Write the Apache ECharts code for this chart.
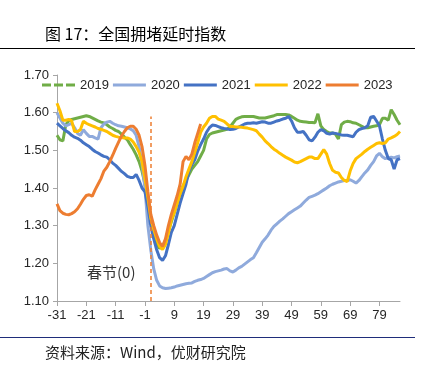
<!DOCTYPE html>
<html>
<head>
<meta charset="utf-8">
<script src="https://cdn.jsdelivr.net/npm/echarts@6/dist/echarts.min.js"></script>
<style>
html,body{margin:0;padding:0;background:#fff;}
#chart{width:421px;height:368px;}
</style>
</head>
<body>
<div id="chart"></div>
<script>
var days = ['-31','-30','-29','-28','-27','-26','-25','-24','-23','-22','-21','-20','-19','-18','-17','-16','-15','-14','-13','-12','-11','-10','-9','-8','-7','-6','-5','-4','-3','-2','-1','0',
'1','2','3','4','5','6','7','8','9','10','11','12','13','14','15','16','17','18','19','20','21','22','23','24','25','26','27','28','29','30',
'31','32','33','34','35','36','37','38','39','40','41','42','43','44','45','46','47','48','49','50','51','52','53','54','55','56','57','58','59','60',
'61','62','63','64','65','66','67','68','69','70','71','72','73','74','75','76','77','78','79','80','81','82','83','84','85','86'];

var s2019 = [1.54,1.528,1.525,1.568,1.578,1.582,1.584,1.586,1.588,1.59,1.592,1.59,1.586,1.582,1.578,1.575,1.573,1.568,1.562,1.558,1.553,1.55,1.543,1.535,1.528,1.515,1.503,1.488,1.47,1.445,1.41,1.37,
1.32,1.28,1.25,1.24,1.245,1.26,1.285,1.31,1.335,1.36,1.385,1.405,1.42,1.435,1.45,1.46,1.47,1.485,1.50,1.53,1.542,1.546,1.548,1.55,1.552,1.554,1.556,1.562,1.572,1.582,
1.586,1.589,1.59,1.59,1.59,1.59,1.588,1.586,1.586,1.586,1.588,1.59,1.592,1.595,1.595,1.595,1.595,1.594,1.59,1.585,
1.58,1.577,1.576,1.575,1.574,1.574,1.573,1.597,1.565,1.555,1.55,1.546,1.546,1.543,1.53,1.568,1.575,1.577,1.576,1.573,
1.572,1.568,1.564,1.56,1.56,1.562,1.564,1.565,1.568,1.585,1.585,1.58,1.608,1.595,1.58,1.568];

var s2020 = [1.60,1.586,1.572,1.565,1.568,1.572,1.56,1.545,1.54,1.555,1.545,1.537,1.537,1.533,1.53,1.56,1.57,1.575,1.577,1.572,1.568,1.565,1.564,1.562,1.56,1.557,1.552,1.54,1.51,1.465,1.40,1.30,
1.235,1.185,1.155,1.14,1.135,1.133,1.134,1.135,1.137,1.14,1.142,1.144,1.146,1.147,1.148,1.152,1.155,1.157,1.16,1.165,1.17,1.175,1.178,1.18,1.182,1.185,1.186,1.18,1.177,1.182,
1.188,1.192,1.198,1.204,1.21,1.215,1.228,1.242,1.256,1.265,1.275,1.288,1.298,1.305,1.312,1.318,1.325,1.332,1.337,1.342,
1.347,1.352,1.36,1.368,1.375,1.378,1.381,1.385,1.39,1.395,1.40,1.406,1.41,1.413,1.416,1.418,1.42,1.42,1.422,1.418,
1.413,1.42,1.43,1.44,1.448,1.46,1.47,1.485,1.492,1.483,1.478,1.48,1.482,1.48,1.483,1.485];

var s2021 = [1.572,1.565,1.558,1.552,1.547,1.54,1.535,1.532,1.527,1.52,1.515,1.51,1.503,1.497,1.493,1.488,1.484,1.482,1.475,1.466,1.46,1.452,1.444,1.438,1.431,1.428,1.428,1.436,1.42,1.40,1.39,1.35,
1.30,1.265,1.236,1.215,1.208,1.22,1.25,1.282,1.30,1.33,1.36,1.385,1.41,1.445,1.462,1.475,1.498,1.515,1.53,1.548,1.56,1.567,1.566,1.563,1.56,1.558,1.557,1.555,1.556,1.558,
1.562,1.566,1.57,1.572,1.572,1.573,1.572,1.574,1.576,1.575,1.572,1.572,1.575,1.578,1.58,1.583,1.585,1.59,1.578,1.56,
1.548,1.548,1.55,1.54,1.528,1.525,1.535,1.548,1.555,1.552,1.545,1.543,1.546,1.545,1.543,1.541,1.54,1.54,1.538,1.536,
1.548,1.555,1.558,1.56,1.565,1.588,1.59,1.578,1.565,1.53,1.50,1.478,1.475,1.45,1.475,1.478];

var s2022 = [1.625,1.605,1.58,1.58,1.582,1.578,1.55,1.55,1.555,1.577,1.572,1.568,1.565,1.562,1.558,1.556,1.553,1.55,1.545,1.54,1.537,1.535,1.534,1.533,1.533,1.53,1.522,1.51,1.495,1.47,1.425,1.375,
1.32,1.29,1.265,1.245,1.237,1.25,1.28,1.315,1.335,1.36,1.385,1.405,1.43,1.45,1.47,1.495,1.52,1.548,1.562,1.572,1.585,1.59,1.59,1.583,1.58,1.577,1.57,1.564,1.563,1.562,
1.562,1.561,1.56,1.559,1.557,1.555,1.552,1.543,1.535,1.525,1.518,1.51,1.503,1.498,1.492,1.487,1.482,1.478,1.474,1.469,
1.467,1.47,1.474,1.478,1.482,1.482,1.478,1.478,1.49,1.502,1.49,1.465,1.447,1.442,1.44,1.428,1.42,1.417,1.445,1.465,
1.478,1.484,1.49,1.497,1.503,1.508,1.513,1.518,1.52,1.518,1.52,1.53,1.533,1.537,1.542,1.55];

var s2023 = [1.358,1.34,1.333,1.33,1.329,1.332,1.337,1.345,1.357,1.37,1.38,1.382,1.378,1.395,1.41,1.425,1.445,1.455,1.47,1.487,1.505,1.522,1.538,1.55,1.56,1.564,1.564,1.556,1.54,1.51,1.46,1.39,
1.33,1.30,1.275,1.255,1.245,1.265,1.30,1.33,1.355,1.38,1.41,1.47,1.484,1.475,1.49,1.52,1.545,1.57];

var seriesNames = ['2019','2020','2021','2022','2023'];
var seriesColors = ['#70AD47','#8FAADC','#4472C4','#FFC000','#ED7D31'];
var seriesData = [s2019, s2020, s2021, s2022, s2023];
var yTicks = [1.10, 1.70, 0.1];
var holidayDay = '1';
var holidayTop = 1.59;

var solidIcon = 'path://M0,0h33v3h-33z';
var dashIcon = 'path://M0,0h9v3h-9z M12,0h9v3h-9z M24,0h9v3h-9z';

var chart = echarts.init(document.getElementById('chart'));
var series = seriesNames.map(function(n, i){
  var s = {
    name: n, type: 'line', data: seriesData[i], symbol: 'none', showSymbol: false, smooth: false,
    lineStyle: {color: seriesColors[i], width: 3}, itemStyle: {color: seriesColors[i]},
    emphasis: {disabled: true}, animation: false
  };
  if (n === '2023') {
    s.markLine = {
      silent: true, symbol: 'none', label: {show: false}, animation: false,
      lineStyle: {color: '#ED7D31', type: [4, 3], width: 1.5},
      data: [[{coord: [holidayDay, yTicks[0]]}, {coord: [holidayDay, holidayTop]}]]
    };
  }
  return s;
});

chart.setOption({
  animation: false,
  backgroundColor: '#fff',
  grid: {left: 57, right: 21, top: 75, bottom: 67, containLabel: false},
  legend: {
    left: 37, top: 73.5, itemWidth: 33, itemHeight: 3, itemGap: 4,
    textStyle: {fontFamily: 'Liberation Sans', fontSize: 13, color: '#262626'},
    data: seriesNames.map(function(n, i){
      return {name: n, icon: n === '2019' ? dashIcon : solidIcon, itemStyle: {color: seriesColors[i]}};
    })
  },
  xAxis: {
    type: 'category', data: days, boundaryGap: false,
    axisLine: {lineStyle: {color: '#A6A6A6', width: 1}},
    axisTick: {interval: 9, length: 5, lineStyle: {color: '#A6A6A6'}},
    axisLabel: {interval: 9, color: '#262626', fontFamily: 'Liberation Sans', fontSize: 13, margin: 8},
    splitLine: {show: false}
  },
  yAxis: {
    type: 'value', min: yTicks[0], max: yTicks[1], interval: yTicks[2],
    axisLine: {show: true, lineStyle: {color: '#A6A6A6', width: 1}},
    axisTick: {show: true, length: 4, lineStyle: {color: '#A6A6A6'}},
    axisLabel: {color: '#262626', fontFamily: 'Liberation Sans', fontSize: 13, margin: 8,
      formatter: function(v){ return v.toFixed(2); }},
    splitLine: {show: false}
  },
  graphic: [
    {type: 'text', left: 45, top: 26, style: {text: '图 17：全国拥堵延时指数', font: '16px "Noto Sans CJK SC"', fill: '#000'}},
    {type: 'line', shape: {x1: 0, y1: 48.5, x2: 415, y2: 48.5}, style: {stroke: '#000', lineWidth: 1}},
    {type: 'line', shape: {x1: 0, y1: 337.5, x2: 415, y2: 337.5}, style: {stroke: '#1F2D7A', lineWidth: 1}},
    {type: 'text', left: 45, top: 345, style: {text: '资料来源：Wind，优财研究院', font: '15px "Noto Sans CJK SC"', fill: '#222'}},
    {type: 'text', left: 87, top: 265, style: {text: '春节(0)', font: '15px "Noto Sans CJK SC"', fill: '#333'}}
  ],
  series: series
});
</script>
</body>
</html>
